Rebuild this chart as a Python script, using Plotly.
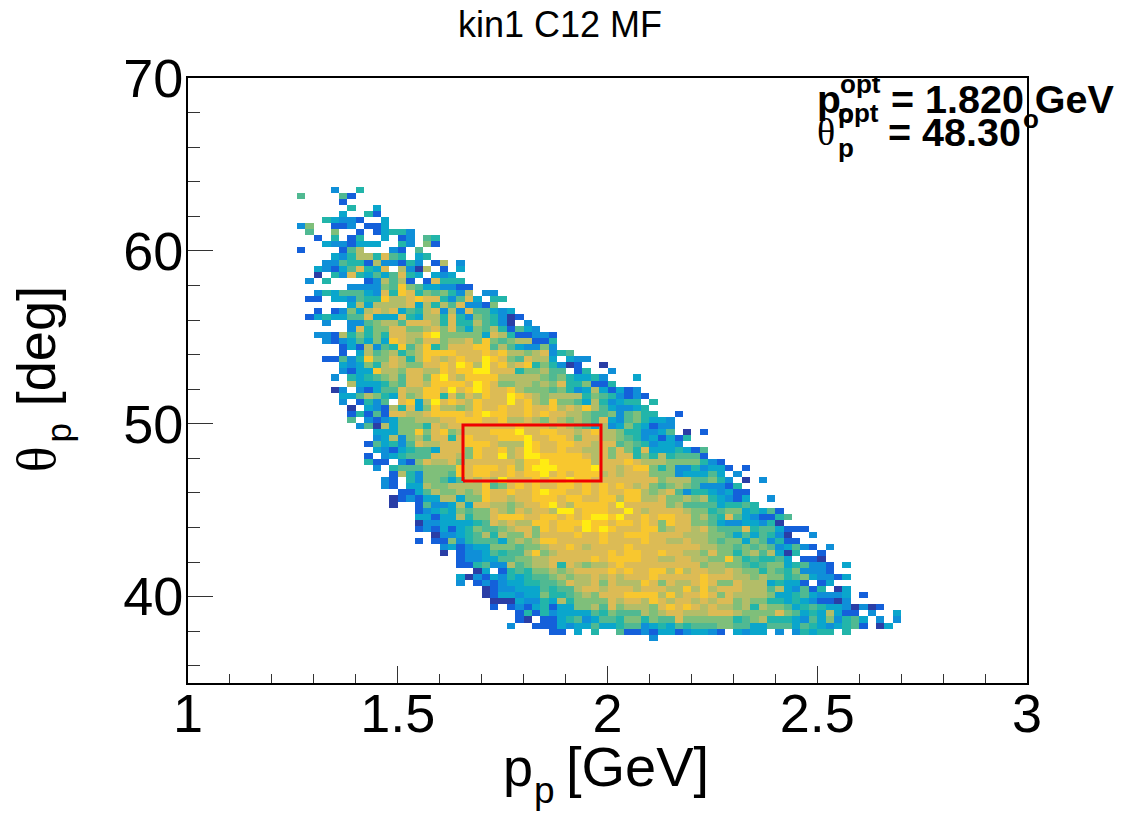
import numpy as np
import plotly.graph_objects as go

P_RANGE = [1.0, 3.0]
THETA_RANGE = [35.0, 70.0]
N_BINS = 100
TITLE = "kin1 C12 MF"
X_TICKS = [1, 1.5, 2, 2.5, 3]
Y_TICKS = [40, 50, 60, 70]
RECT_P = [1.6555, 1.9845, 1.9845, 1.6555, 1.6555]
RECT_THETA = [46.68, 46.68, 49.93, 49.93, 46.68]

# bin content levels, one string per row: hex digit = level, '.' = empty bin
ROW_INDEX = list(range(81, 6, -1))
FIRST_COL = [17,13,18,19,18,16,13,14,15,16,13,17,16,15,15,14,19,15,14,19,15,14,16,19,15,16,18,18,16,18,18,17,19,17,18,18,
             19,19,19,20,22,22,21,22,21,21,22,24,23,23,25,24,24,27,27,27,27,29,27,30,30,32,32,34,32,32,35,35,36,36,39,39,38,43,55]
CELLS = [
"2..4","5....51","1","4..3","3..41","43221..3","26..112.113","5..6..1.13442","1.4.14..3.12.54","3221333..42.61",
"1....157...21.5","324774854.34","225441722142.17.2","321358438.7207.1.3","0.42843535843.323","2.4....127571.18444",
"222265965332211","2435553284984656427.22","11.332544977898842583.44","373777783747582216",
"1.1263787835478272855323","13433558333843774842654201","2..22567758887484475420.2","28466886678685365741532",
"22174646488779a66666387411221","2123536398768867786965677114","13172549579468889957532262",
"1.37567467999988898977678245","1152496687479878988a98658773.322","32364787668898a97a89789464201..0",
"2133977688779899aa888466755.14..2","2.43456758869a8799997777765643342...3","733346588799998a9866776768446114",
"02.21355877998a89a9889766656423731312","33576438679948687988a9876777746542121",
"2.1425.8937a89879888a897696653742344.4","0.3217483697767988988988978797532234",
"1415188778999989a99889898877655625644..1","5.2123667778899988977876876765832564332",
"25073666487888888889888787653723643122","33366968967888999a889988789776442235.0.1",
"237267588489888999a8899868877654231314","15342587788899987 77a988998877".replace(" ","")[:28]+"8856542332",
"321345538886988978a988988778686483334315","1.23455588876988a78aa99999878688464745551",
"411.21687786888888799a999997888987776666421","2.45556666989998979aaa9999a8878996462242331.1",
"174266659899889899a898999787888666233353.2","21.42665358787a8889899a9988888888677755642.0.2",
"21.33766777795689898899898" "98987865676522214","11357667679889889a99889" "8988997678524432311",
"012133773669887889998998" "8997997786676743213..2","0..15223738877678 89a87999".replace(" ","") + "98a8888867555534454",
"123436566876878 87aa8999".replace(" ","") + "88a878888766456634351",
"331337466899988998989aa9" "a88989988675485321145",
"02233334587877998999a9" "9899898698866532233240",
"12131346556788698998a9" "a988899678878655584553111",
"0223457476686888 8988".replace(" ","") + "98899988887776653535420..2",
"1.1162455536767 99888 88".replace(" ","") + "98888988778776566365 2411".replace(" ",""),
"2312336665667889878" "88898888888877665656523521.2",
"0.1223545579678 8888".replace(" ","") + "8989988988776866467573 04..1".replace(" ",""),
"12233556677888889" "89999887788776696454453.110",
"11452275677848767" "7898888888886776654566345221.3",
"03.145466767888" "8989889979788778766465462221",
"30213243455676778" "78788898888898887767664563221 3".replace(" ",""),
"2.1212334455 68778".replace(" ","") + "68777986877898668777343 31.13".replace(" ",""),
"01223335455788" "788878887797978887775732514.03",
"01332336445676" "888999979788986877776334532223.1",
"0003224374666" "68788798788787886766443432110 2".replace(" ",""),
"1.12134133667" "58677768989878776747665345433 20201".replace(" ",""),
"1414233335" "4655576788777888766668653437311.2..3",
"10.1134523" "5546646558666666456744432536 2453.2.2".replace(" ",""),
"2..11132335" "33455234354555665533555354 3234 51.03".replace(" ",""),
"11.3.4..5112133123321.3233.2.24344.4",
"2",
]

LEVEL_COLORS = ["#2a3ea6","#1460da","#0f8fd8","#0aa6cc","#22b5aa","#50b992","#7fbf7a","#b3bd68","#dcbb55","#f8c72f","#ffec12"]

z = np.full((N_BINS, N_BINS), np.nan)
for row, col0, cells in zip(ROW_INDEX, FIRST_COL, CELLS):
    for k, ch in enumerate(cells):
        if ch != "." and col0 + k < N_BINS:
            z[row, col0 + k] = int(ch, 16)

x_edges = np.linspace(P_RANGE[0], P_RANGE[1], N_BINS + 1)
y_edges = np.linspace(THETA_RANGE[0], THETA_RANGE[1], N_BINS + 1)

fig = go.Figure()
fig.add_trace(go.Heatmap(x=x_edges, y=y_edges, z=z, zmin=0, zmax=10, showscale=False, hoverongaps=False,
                         colorscale=[[i / 10, c] for i, c in enumerate(LEVEL_COLORS)]))
fig.add_trace(go.Scatter(x=RECT_P, y=RECT_THETA, mode="lines", line=dict(color="#f00000", width=3), showlegend=False))

L, R, T, B = 188, 1027, 78, 683
FONT = "Liberation Sans"

def text(s, px, base, size, bold=False, family=FONT):
    fig.add_annotation(xref="paper", yref="paper", x=(px - L) / (R - L), y=(B - (base - 0.33 * size)) / (B - T),
                       text=f"<b>{s}</b>" if bold else s, showarrow=False, xanchor="left", yanchor="middle",
                       font=dict(family=family, size=size, color="black"), borderpad=0, borderwidth=0)

def vtext(s, base, center, size, family=FONT):
    fig.add_annotation(xref="paper", yref="paper", x=(base - 0.33 * size - L) / (R - L), y=(B - center) / (B - T),
                       text=s, textangle=-90, showarrow=False, xanchor="center", yanchor="middle",
                       font=dict(family=family, size=size, color="black"), borderpad=0, borderwidth=0)

text(TITLE, 458, 36, 36)
text("p", 503, 785, 54)
text("p", 534, 803, 37)
text("[GeV]", 566, 785, 56)
vtext("[deg]", 54, 346, 54)
vtext("p", 70, 433, 35)
vtext("θ", 55, 459, 54, family="Liberation Serif")
text("p", 817, 112, 39, bold=True)
text("opt", 840, 93, 26, bold=True)
text("p", 838, 123, 26, bold=True)
text("= 1.820 GeV", 891, 112, 39.5, bold=True)
text("θ", 817, 145, 38, family="Liberation Serif")
text("opt", 838, 122, 26, bold=True)
text("p", 838, 157, 26, bold=True)
text("= 48.30", 888, 145, 39.5, bold=True)
text("o", 1023, 128, 26, bold=True)

fig.update_layout(
    width=1128, height=813, margin=dict(l=L, r=1128 - R, t=T, b=813 - B, pad=0, autoexpand=False),
    paper_bgcolor="white", plot_bgcolor="white", showlegend=False,
    font=dict(family=FONT, color="black"),
    xaxis=dict(range=P_RANGE, tickmode="array", tickvals=X_TICKS, ticktext=[str(v) for v in X_TICKS], ticks="inside", ticklen=17,
               tickwidth=1.2, tickcolor="#333", showgrid=False, zeroline=False, showline=True, linecolor="black", linewidth=1.6,
               mirror=True, tickfont=dict(size=54, family=FONT), ticklabelstandoff=-18,
               minor=dict(ticks="inside", ticklen=9, dtick=0.1, tick0=1, tickwidth=1.2, tickcolor="#333", showgrid=False)),
    yaxis=dict(range=THETA_RANGE, tickmode="array", tickvals=Y_TICKS, ticktext=[str(v) for v in Y_TICKS], ticks="inside", ticklen=25,
               tickwidth=1.2, tickcolor="#333", showgrid=False, zeroline=False, showline=True, linecolor="black", linewidth=1.6,
               mirror=True, tickfont=dict(size=54, family=FONT), ticklabelstandoff=-8,
               minor=dict(ticks="inside", ticklen=12, dtick=2, tick0=36, tickwidth=1.2, tickcolor="#333", showgrid=False)),
)
fig.write_html("out.html", config=dict(displayModeBar=False),
               post_script="document.body.style.margin='0';document.body.style.overflow='hidden';")
